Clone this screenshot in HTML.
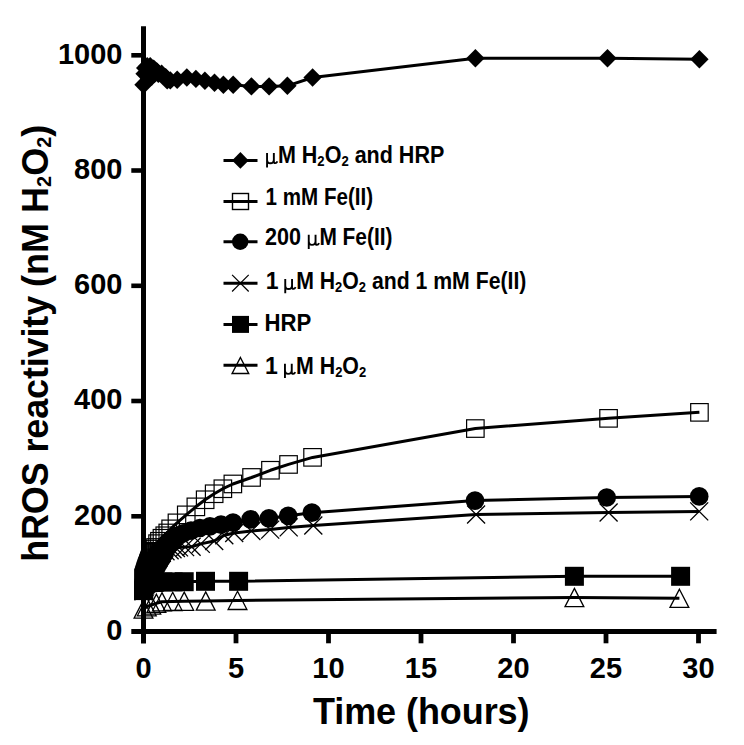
<!DOCTYPE html>
<html><head><meta charset="utf-8"><title>hROS reactivity</title>
<style>html,body{margin:0;padding:0;background:#fff;}svg{display:block;}</style></head>
<body><svg width="744" height="745" viewBox="0 0 744 745">
<rect width="744" height="745" fill="#fff"/>
<g stroke="#000" fill="none">
<line x1="143.5" y1="26.3" x2="143.5" y2="643.5" stroke-width="5"/>
<line x1="131.3" y1="631.5" x2="716.6" y2="631.5" stroke-width="4.8"/>
<line x1="131.3" y1="516.3" x2="143.5" y2="516.3" stroke-width="4.6"/>
<line x1="131.3" y1="401.0" x2="143.5" y2="401.0" stroke-width="4.6"/>
<line x1="131.3" y1="285.8" x2="143.5" y2="285.8" stroke-width="4.6"/>
<line x1="131.3" y1="170.5" x2="143.5" y2="170.5" stroke-width="4.6"/>
<line x1="131.3" y1="55.3" x2="143.5" y2="55.3" stroke-width="4.6"/>
<line x1="236.0" y1="631.5" x2="236.0" y2="643.3" stroke-width="4.8"/>
<line x1="328.5" y1="631.5" x2="328.5" y2="643.3" stroke-width="4.8"/>
<line x1="421.0" y1="631.5" x2="421.0" y2="643.3" stroke-width="4.8"/>
<line x1="513.5" y1="631.5" x2="513.5" y2="643.3" stroke-width="4.8"/>
<line x1="606.0" y1="631.5" x2="606.0" y2="643.3" stroke-width="4.8"/>
<line x1="698.5" y1="631.5" x2="698.5" y2="643.3" stroke-width="4.8"/>
</g>
<g font-family="Liberation Sans, sans-serif" font-weight="bold" font-size="29" fill="#000">
<text x="122.5" y="639.8" text-anchor="end">0</text>
<text x="122.5" y="524.6" text-anchor="end">200</text>
<text x="122.5" y="409.3" text-anchor="end">400</text>
<text x="122.5" y="294.1" text-anchor="end">600</text>
<text x="122.5" y="178.8" text-anchor="end">800</text>
<text x="122.5" y="63.6" text-anchor="end">1000</text>
<text x="143.5" y="678" text-anchor="middle">0</text>
<text x="236.0" y="678" text-anchor="middle">5</text>
<text x="328.5" y="678" text-anchor="middle">10</text>
<text x="421.0" y="678" text-anchor="middle">15</text>
<text x="513.5" y="678" text-anchor="middle">20</text>
<text x="606.0" y="678" text-anchor="middle">25</text>
<text x="698.5" y="678" text-anchor="middle">30</text>
</g>
<text x="313" y="723.7" font-family="Liberation Sans, sans-serif" font-weight="bold" font-size="36" textLength="216.5" lengthAdjust="spacing">Time (hours)</text>
<text transform="translate(48 561.8) rotate(-90)" font-family="Liberation Sans, sans-serif" font-weight="bold" font-size="36" textLength="266" lengthAdjust="spacing">hROS reactivity</text>
<text transform="translate(48 286.9) rotate(-90)" font-family="Liberation Sans, sans-serif" font-weight="bold" font-size="36">(nM H<tspan font-size="20" dy="3">2</tspan><tspan dy="-3">O</tspan><tspan font-size="20" dy="3">2</tspan><tspan dy="-3">)</tspan></text>
<g fill="none" stroke="#000" stroke-width="3.0" stroke-linejoin="round">
<polyline points="143.5,84.7 144.6,73.7 145.2,68.0 147.2,66.2 149.1,78.3 150.2,66.2 151.8,76.6 153.7,68.6 154.6,73.7 156.8,71.4 158.3,73.7 161.6,73.7 165.7,77.2 167.2,80.4 170.3,80.4 177.2,79.8 186.8,77.5 195.9,78.9 204.9,80.7 214.5,82.8 223.4,84.7 233.2,84.7 251.4,86.4 269.1,86.4 287.4,85.8 312.6,77.5 475.4,58.2 607.5,58.2 699.4,59.2"/>
<polyline points="143.5,578.5 143.9,577.3 144.2,576.2 144.6,575.0 145.0,573.9 145.3,572.8 145.7,571.7 146.1,570.6 146.5,569.5 146.8,568.5 147.2,567.4 147.6,566.4 147.9,565.3 148.3,564.3 148.7,563.3 149.1,562.4 149.4,561.4 149.8,560.4 150.2,559.5 150.5,558.5 150.9,557.5 151.3,556.6 151.6,555.7 152.0,554.8 152.4,553.9 152.8,553.0 153.1,552.2 153.5,551.3 154.6,549.0 155.5,547.4 157.6,543.6 159.4,541.2 162.0,538.2 164.8,535.8 167.7,532.9 170.7,528.8 177.0,522.9 186.2,514.9 195.9,506.8 205.1,499.7 214.2,493.8 222.9,488.7 232.9,484.0 251.5,477.5 270.4,470.3 288.5,464.4 312.6,457.4 475.4,428.5 608.6,418.3 699.4,412.3"/>
<polyline points="143.5,581.9 144.1,579.6 144.6,577.4 145.2,575.4 145.7,573.7 146.3,572.2 146.8,570.9 147.4,569.7 147.9,568.7 148.5,567.8 149.1,567.0 149.6,566.2 150.2,565.5 150.7,564.9 151.3,564.3 151.8,563.7 152.4,563.1 152.9,562.6 153.5,562.1 154.0,561.7 154.6,561.2 155.2,560.8 155.7,560.3 156.3,559.7 156.8,559.0 157.4,558.0 157.9,557.0 158.5,555.8 159.0,554.6 159.6,553.5 160.2,552.6 160.7,551.7 161.3,550.9 161.8,550.1 162.4,549.3 162.9,548.6 163.5,547.8 164.0,547.1 164.6,546.4 165.1,545.7 165.7,545.1 166.3,544.4 166.8,543.7 167.4,543.1 167.9,542.6 168.5,542.0 169.0,541.5 169.6,541.0 170.1,540.5 170.7,540.0 171.2,539.6 171.8,539.1 172.4,538.7 172.9,538.3 173.5,537.9 174.0,537.6 174.6,537.3 175.1,536.9 175.7,536.6 176.2,536.3 176.8,536.1 183.1,533.4 191.0,530.7 199.9,528.0 209.9,526.3 221.0,524.6 233.0,522.6 250.6,519.3 268.9,518.4 288.2,515.8 311.9,512.7 475.0,500.6 606.7,497.5 699.2,496.4"/>
<polyline points="143.5,591.2 144.1,589.2 144.6,587.3 145.2,585.5 145.7,583.8 146.3,582.1 146.8,580.6 147.4,579.2 147.9,577.8 148.5,576.6 149.1,575.4 149.6,574.2 150.2,573.1 150.7,572.0 151.3,571.0 151.8,569.9 152.4,568.8 152.9,567.8 153.5,566.7 154.0,565.6 154.6,564.5 155.2,563.4 155.7,562.4 156.3,561.4 156.8,560.4 157.4,559.5 157.9,558.5 158.5,557.5 159.0,556.5 159.6,555.5 160.2,554.6 160.7,553.8 161.3,553.1 161.8,552.7 165.5,551.3 169.6,550.3 172.5,549.2 175.9,548.0 179.0,547.4 185.1,547.1 191.6,546.8 200.8,543.9 214.2,541.0 224.3,535.3 234.2,533.0 251.4,531.0 270.2,529.6 288.7,527.4 313.3,525.5 476.1,514.5 608.6,512.5 699.2,511.4"/>
<polyline points="143.5,590.6 144.4,583.4 145.3,582.8 146.3,582.7 147.2,582.6 148.1,582.6 149.1,582.5 150.0,582.5 150.9,582.4 151.8,582.4 152.8,582.3 153.7,582.3 154.6,582.2 162.9,581.9 173.1,581.9 184.2,581.7 205.5,581.3 238.6,581.3 574.4,576.3 680.6,576.3"/>
<polyline points="143.5,609.1 146.8,606.7 151.3,605.0 156.4,603.3 162.0,601.7 172.7,601.4 184.2,601.2 205.7,601.0 237.5,600.4 574.4,597.5 679.4,598.3"/>
</g>
<g fill="#000"><path d="M143.5 75.5L152.7 84.7L143.5 93.9L134.3 84.7Z"/><path d="M144.6 64.5L153.8 73.7L144.6 82.9L135.4 73.7Z"/><path d="M145.2 58.8L154.4 68.0L145.2 77.2L136.0 68.0Z"/><path d="M147.2 57.0L156.4 66.2L147.2 75.4L138.0 66.2Z"/><path d="M149.1 69.1L158.2 78.3L149.1 87.5L139.9 78.3Z"/><path d="M150.2 57.0L159.4 66.2L150.2 75.4L141.0 66.2Z"/><path d="M151.8 67.4L161.0 76.6L151.8 85.8L142.6 76.6Z"/><path d="M153.7 59.4L162.9 68.6L153.7 77.8L144.5 68.6Z"/><path d="M154.6 64.5L163.8 73.7L154.6 82.9L145.4 73.7Z"/><path d="M156.8 62.2L166.0 71.4L156.8 80.6L147.6 71.4Z"/><path d="M158.3 64.5L167.5 73.7L158.3 82.9L149.1 73.7Z"/><path d="M161.6 64.5L170.8 73.7L161.6 82.9L152.4 73.7Z"/><path d="M165.7 68.0L174.9 77.2L165.7 86.4L156.5 77.2Z"/><path d="M167.2 71.2L176.4 80.4L167.2 89.6L158.0 80.4Z"/><path d="M170.3 71.2L179.5 80.4L170.3 89.6L161.1 80.4Z"/><path d="M177.2 70.6L186.4 79.8L177.2 89.0L168.0 79.8Z"/><path d="M186.8 68.3L196.0 77.5L186.8 86.7L177.6 77.5Z"/><path d="M195.9 69.7L205.1 78.9L195.9 88.1L186.7 78.9Z"/><path d="M204.9 71.5L214.1 80.7L204.9 89.9L195.7 80.7Z"/><path d="M214.5 73.6L223.7 82.8L214.5 92.0L205.3 82.8Z"/><path d="M223.4 75.5L232.6 84.7L223.4 93.9L214.2 84.7Z"/><path d="M233.2 75.5L242.4 84.7L233.2 93.9L224.0 84.7Z"/><path d="M251.4 77.2L260.6 86.4L251.4 95.6L242.2 86.4Z"/><path d="M269.1 77.2L278.3 86.4L269.1 95.6L259.9 86.4Z"/><path d="M287.4 76.6L296.6 85.8L287.4 95.0L278.2 85.8Z"/><path d="M312.6 68.3L321.8 77.5L312.6 86.7L303.4 77.5Z"/><path d="M475.4 49.0L484.6 58.2L475.4 67.4L466.2 58.2Z"/><path d="M607.5 49.0L616.7 58.2L607.5 67.4L598.3 58.2Z"/><path d="M699.4 50.0L708.6 59.2L699.4 68.4L690.2 59.2Z"/></g>
<g fill="none" stroke="#000" stroke-width="1.2"><rect x="134.8" y="569.7" width="17.5" height="17.5"/><rect x="135.1" y="568.6" width="17.5" height="17.5"/><rect x="135.5" y="567.4" width="17.5" height="17.5"/><rect x="135.9" y="566.3" width="17.5" height="17.5"/><rect x="136.2" y="565.2" width="17.5" height="17.5"/><rect x="136.6" y="564.0" width="17.5" height="17.5"/><rect x="137.0" y="562.9" width="17.5" height="17.5"/><rect x="137.3" y="561.8" width="17.5" height="17.5"/><rect x="137.7" y="560.8" width="17.5" height="17.5"/><rect x="138.1" y="559.7" width="17.5" height="17.5"/><rect x="138.4" y="558.7" width="17.5" height="17.5"/><rect x="138.8" y="557.6" width="17.5" height="17.5"/><rect x="139.2" y="556.6" width="17.5" height="17.5"/><rect x="139.6" y="555.6" width="17.5" height="17.5"/><rect x="139.9" y="554.6" width="17.5" height="17.5"/><rect x="140.3" y="553.6" width="17.5" height="17.5"/><rect x="140.7" y="552.6" width="17.5" height="17.5"/><rect x="141.0" y="551.7" width="17.5" height="17.5"/><rect x="141.4" y="550.7" width="17.5" height="17.5"/><rect x="141.8" y="549.7" width="17.5" height="17.5"/><rect x="142.2" y="548.8" width="17.5" height="17.5"/><rect x="142.5" y="547.9" width="17.5" height="17.5"/><rect x="142.9" y="546.9" width="17.5" height="17.5"/><rect x="143.3" y="546.0" width="17.5" height="17.5"/><rect x="143.6" y="545.1" width="17.5" height="17.5"/><rect x="144.0" y="544.3" width="17.5" height="17.5"/><rect x="144.4" y="543.4" width="17.5" height="17.5"/><rect x="144.7" y="542.6" width="17.5" height="17.5"/><rect x="145.8" y="540.3" width="17.5" height="17.5"/><rect x="146.8" y="538.7" width="17.5" height="17.5"/><rect x="148.8" y="534.9" width="17.5" height="17.5"/><rect x="150.7" y="532.5" width="17.5" height="17.5"/><rect x="153.2" y="529.5" width="17.5" height="17.5"/><rect x="156.0" y="527.0" width="17.5" height="17.5"/><rect x="159.0" y="524.2" width="17.5" height="17.5"/><rect x="161.9" y="520.1" width="17.5" height="17.5"/><rect x="168.2" y="514.1" width="17.5" height="17.5"/><rect x="177.5" y="506.1" width="17.5" height="17.5"/><rect x="187.1" y="498.1" width="17.5" height="17.5"/><rect x="196.4" y="491.0" width="17.5" height="17.5"/><rect x="205.4" y="485.0" width="17.5" height="17.5"/><rect x="214.1" y="480.0" width="17.5" height="17.5"/><rect x="224.1" y="475.2" width="17.5" height="17.5"/><rect x="242.8" y="468.7" width="17.5" height="17.5"/><rect x="261.7" y="461.5" width="17.5" height="17.5"/><rect x="279.8" y="455.7" width="17.5" height="17.5"/><rect x="303.8" y="448.6" width="17.5" height="17.5"/><rect x="466.6" y="419.8" width="17.5" height="17.5"/><rect x="599.8" y="409.6" width="17.5" height="17.5"/><rect x="690.7" y="403.6" width="17.5" height="17.5"/></g>
<g fill="#000"><circle cx="143.5" cy="581.9" r="9.35"/><circle cx="144.1" cy="579.6" r="9.35"/><circle cx="144.6" cy="577.4" r="9.35"/><circle cx="145.2" cy="575.4" r="9.35"/><circle cx="145.7" cy="573.7" r="9.35"/><circle cx="146.3" cy="572.2" r="9.35"/><circle cx="146.8" cy="570.9" r="9.35"/><circle cx="147.4" cy="569.7" r="9.35"/><circle cx="147.9" cy="568.7" r="9.35"/><circle cx="148.5" cy="567.8" r="9.35"/><circle cx="149.1" cy="567.0" r="9.35"/><circle cx="149.6" cy="566.2" r="9.35"/><circle cx="150.2" cy="565.5" r="9.35"/><circle cx="150.7" cy="564.9" r="9.35"/><circle cx="151.3" cy="564.3" r="9.35"/><circle cx="151.8" cy="563.7" r="9.35"/><circle cx="152.4" cy="563.1" r="9.35"/><circle cx="152.9" cy="562.6" r="9.35"/><circle cx="153.5" cy="562.1" r="9.35"/><circle cx="154.0" cy="561.7" r="9.35"/><circle cx="154.6" cy="561.2" r="9.35"/><circle cx="155.2" cy="560.8" r="9.35"/><circle cx="155.7" cy="560.3" r="9.35"/><circle cx="156.3" cy="559.7" r="9.35"/><circle cx="156.8" cy="559.0" r="9.35"/><circle cx="157.4" cy="558.0" r="9.35"/><circle cx="157.9" cy="557.0" r="9.35"/><circle cx="158.5" cy="555.8" r="9.35"/><circle cx="159.0" cy="554.6" r="9.35"/><circle cx="159.6" cy="553.5" r="9.35"/><circle cx="160.2" cy="552.6" r="9.35"/><circle cx="160.7" cy="551.7" r="9.35"/><circle cx="161.3" cy="550.9" r="9.35"/><circle cx="161.8" cy="550.1" r="9.35"/><circle cx="162.4" cy="549.3" r="9.35"/><circle cx="162.9" cy="548.6" r="9.35"/><circle cx="163.5" cy="547.8" r="9.35"/><circle cx="164.0" cy="547.1" r="9.35"/><circle cx="164.6" cy="546.4" r="9.35"/><circle cx="165.1" cy="545.7" r="9.35"/><circle cx="165.7" cy="545.1" r="9.35"/><circle cx="166.3" cy="544.4" r="9.35"/><circle cx="166.8" cy="543.7" r="9.35"/><circle cx="167.4" cy="543.1" r="9.35"/><circle cx="167.9" cy="542.6" r="9.35"/><circle cx="168.5" cy="542.0" r="9.35"/><circle cx="169.0" cy="541.5" r="9.35"/><circle cx="169.6" cy="541.0" r="9.35"/><circle cx="170.1" cy="540.5" r="9.35"/><circle cx="170.7" cy="540.0" r="9.35"/><circle cx="171.2" cy="539.6" r="9.35"/><circle cx="171.8" cy="539.1" r="9.35"/><circle cx="172.4" cy="538.7" r="9.35"/><circle cx="172.9" cy="538.3" r="9.35"/><circle cx="173.5" cy="537.9" r="9.35"/><circle cx="174.0" cy="537.6" r="9.35"/><circle cx="174.6" cy="537.3" r="9.35"/><circle cx="175.1" cy="536.9" r="9.35"/><circle cx="175.7" cy="536.6" r="9.35"/><circle cx="176.2" cy="536.3" r="9.35"/><circle cx="176.8" cy="536.1" r="9.35"/><circle cx="183.1" cy="533.4" r="9.35"/><circle cx="191.0" cy="530.7" r="9.35"/><circle cx="199.9" cy="528.0" r="9.35"/><circle cx="209.9" cy="526.3" r="9.35"/><circle cx="221.0" cy="524.6" r="9.35"/><circle cx="233.0" cy="522.6" r="9.35"/><circle cx="250.6" cy="519.3" r="9.35"/><circle cx="268.9" cy="518.4" r="9.35"/><circle cx="288.2" cy="515.8" r="9.35"/><circle cx="311.9" cy="512.7" r="9.35"/><circle cx="475.0" cy="500.6" r="9.35"/><circle cx="606.7" cy="497.5" r="9.35"/><circle cx="699.2" cy="496.4" r="9.35"/><circle cx="153.7" cy="571.0" r="9.35"/><circle cx="156.4" cy="567.0" r="9.35"/><circle cx="159.2" cy="562.4" r="9.35"/><circle cx="162.0" cy="557.7" r="9.35"/><circle cx="164.8" cy="553.1" r="9.35"/><circle cx="167.6" cy="547.4" r="9.35"/><circle cx="170.3" cy="543.9" r="9.35"/><circle cx="173.1" cy="541.6" r="9.35"/></g>
<g fill="none" stroke="#000" stroke-width="1.3"><path d="M134.5 582.2L152.5 600.2M134.5 600.2L152.5 582.2"/><path d="M135.1 580.2L153.1 598.2M135.1 598.2L153.1 580.2"/><path d="M135.6 578.3L153.6 596.3M135.6 596.3L153.6 578.3"/><path d="M136.2 576.5L154.2 594.5M136.2 594.5L154.2 576.5"/><path d="M136.7 574.8L154.7 592.8M136.7 592.8L154.7 574.8"/><path d="M137.3 573.1L155.3 591.1M137.3 591.1L155.3 573.1"/><path d="M137.8 571.6L155.8 589.6M137.8 589.6L155.8 571.6"/><path d="M138.4 570.2L156.4 588.2M138.4 588.2L156.4 570.2"/><path d="M138.9 568.8L156.9 586.8M138.9 586.8L156.9 568.8"/><path d="M139.5 567.6L157.5 585.6M139.5 585.6L157.5 567.6"/><path d="M140.1 566.4L158.1 584.4M140.1 584.4L158.1 566.4"/><path d="M140.6 565.2L158.6 583.2M140.6 583.2L158.6 565.2"/><path d="M141.2 564.1L159.2 582.1M141.2 582.1L159.2 564.1"/><path d="M141.7 563.0L159.7 581.0M141.7 581.0L159.7 563.0"/><path d="M142.3 562.0L160.3 580.0M142.3 580.0L160.3 562.0"/><path d="M142.8 560.9L160.8 578.9M142.8 578.9L160.8 560.9"/><path d="M143.4 559.8L161.4 577.8M143.4 577.8L161.4 559.8"/><path d="M143.9 558.8L161.9 576.8M143.9 576.8L161.9 558.8"/><path d="M144.5 557.7L162.5 575.7M144.5 575.7L162.5 557.7"/><path d="M145.0 556.6L163.0 574.6M145.0 574.6L163.0 556.6"/><path d="M145.6 555.5L163.6 573.5M145.6 573.5L163.6 555.5"/><path d="M146.2 554.4L164.2 572.4M146.2 572.4L164.2 554.4"/><path d="M146.7 553.4L164.7 571.4M146.7 571.4L164.7 553.4"/><path d="M147.3 552.4L165.3 570.4M147.3 570.4L165.3 552.4"/><path d="M147.8 551.4L165.8 569.4M147.8 569.4L165.8 551.4"/><path d="M148.4 550.5L166.4 568.5M148.4 568.5L166.4 550.5"/><path d="M148.9 549.5L166.9 567.5M148.9 567.5L166.9 549.5"/><path d="M149.5 548.5L167.5 566.5M149.5 566.5L167.5 548.5"/><path d="M150.0 547.5L168.0 565.5M150.0 565.5L168.0 547.5"/><path d="M150.6 546.5L168.6 564.5M150.6 564.5L168.6 546.5"/><path d="M151.2 545.6L169.2 563.6M151.2 563.6L169.2 545.6"/><path d="M151.7 544.8L169.7 562.8M151.7 562.8L169.7 544.8"/><path d="M152.3 544.1L170.3 562.1M152.3 562.1L170.3 544.1"/><path d="M152.8 543.7L170.8 561.7M152.8 561.7L170.8 543.7"/><path d="M156.5 542.3L174.5 560.3M156.5 560.3L174.5 542.3"/><path d="M160.6 541.3L178.6 559.3M160.6 559.3L178.6 541.3"/><path d="M163.5 540.2L181.5 558.2M163.5 558.2L181.5 540.2"/><path d="M166.9 539.0L184.9 557.0M166.9 557.0L184.9 539.0"/><path d="M170.0 538.4L188.0 556.4M170.0 556.4L188.0 538.4"/><path d="M176.1 538.1L194.1 556.1M176.1 556.1L194.1 538.1"/><path d="M182.6 537.8L200.6 555.8M182.6 555.8L200.6 537.8"/><path d="M191.8 534.9L209.8 552.9M191.8 552.9L209.8 534.9"/><path d="M205.2 532.0L223.2 550.0M205.2 550.0L223.2 532.0"/><path d="M215.3 526.3L233.3 544.3M215.3 544.3L233.3 526.3"/><path d="M225.2 524.0L243.2 542.0M225.2 542.0L243.2 524.0"/><path d="M242.4 522.0L260.4 540.0M242.4 540.0L260.4 522.0"/><path d="M261.2 520.6L279.2 538.6M261.2 538.6L279.2 520.6"/><path d="M279.7 518.4L297.7 536.4M279.7 536.4L297.7 518.4"/><path d="M304.3 516.5L322.3 534.5M304.3 534.5L322.3 516.5"/><path d="M467.1 505.5L485.1 523.5M467.1 523.5L485.1 505.5"/><path d="M599.6 503.5L617.6 521.5M599.6 521.5L617.6 503.5"/><path d="M690.2 502.4L708.2 520.4M690.2 520.4L708.2 502.4"/></g>
<g fill="#000"><rect x="134.0" y="581.1" width="19.0" height="19.0"/><rect x="134.9" y="573.9" width="19.0" height="19.0"/><rect x="135.8" y="573.3" width="19.0" height="19.0"/><rect x="136.8" y="573.2" width="19.0" height="19.0"/><rect x="137.7" y="573.1" width="19.0" height="19.0"/><rect x="138.6" y="573.1" width="19.0" height="19.0"/><rect x="139.6" y="573.0" width="19.0" height="19.0"/><rect x="140.5" y="573.0" width="19.0" height="19.0"/><rect x="141.4" y="572.9" width="19.0" height="19.0"/><rect x="142.3" y="572.9" width="19.0" height="19.0"/><rect x="143.2" y="572.8" width="19.0" height="19.0"/><rect x="144.2" y="572.8" width="19.0" height="19.0"/><rect x="145.1" y="572.7" width="19.0" height="19.0"/><rect x="153.4" y="572.4" width="19.0" height="19.0"/><rect x="163.6" y="572.4" width="19.0" height="19.0"/><rect x="174.7" y="572.2" width="19.0" height="19.0"/><rect x="196.0" y="571.8" width="19.0" height="19.0"/><rect x="229.1" y="571.8" width="19.0" height="19.0"/><rect x="564.9" y="566.8" width="19.0" height="19.0"/><rect x="671.1" y="566.8" width="19.0" height="19.0"/></g>
<g fill="none" stroke="#000" stroke-width="1.3"><path d="M143.5 600.0L152.9 618.2L134.1 618.2Z"/><path d="M146.8 597.6L156.2 615.8L137.4 615.8Z"/><path d="M151.3 595.9L160.7 614.1L141.9 614.1Z"/><path d="M156.4 594.2L165.8 612.4L147.0 612.4Z"/><path d="M162.0 592.6L171.4 610.8L152.6 610.8Z"/><path d="M172.7 592.3L182.1 610.5L163.3 610.5Z"/><path d="M184.2 592.1L193.6 610.3L174.8 610.3Z"/><path d="M205.7 591.9L215.1 610.1L196.3 610.1Z"/><path d="M237.5 591.3L246.9 609.5L228.1 609.5Z"/><path d="M574.4 588.4L583.8 606.6L565.0 606.6Z"/><path d="M679.4 589.2L688.8 607.4L670.0 607.4Z"/></g>
<g stroke="#000" stroke-width="3">
<line x1="223.5" y1="160.4" x2="257.5" y2="160.4"/>
<line x1="223.5" y1="201.5" x2="257.5" y2="201.5"/>
<line x1="223.5" y1="241.8" x2="257.5" y2="241.8"/>
<line x1="223.5" y1="283.2" x2="257.5" y2="283.2"/>
<line x1="223.5" y1="324.4" x2="257.5" y2="324.4"/>
<line x1="223.5" y1="365.2" x2="257.5" y2="365.2"/>
</g>
<g fill="#000"><path d="M240.4 152.1L248.7 160.4L240.4 168.7L232.1 160.4Z"/></g>
<g fill="none" stroke="#000" stroke-width="1.4"><rect x="232.5" y="193.5" width="16.0" height="16.0"/></g>
<g fill="#000"><circle cx="240.2" cy="241.8" r="8.2"/></g>
<g fill="none" stroke="#000" stroke-width="1.2"><path d="M232.1 274.9L248.7 291.5M232.1 291.5L248.7 274.9"/></g>
<g fill="#000"><rect x="232.0" y="315.9" width="17.0" height="17.0"/></g>
<g fill="none" stroke="#000" stroke-width="1.4"><path d="M240.4 357.5L248.7 373.5L232.1 373.5Z"/></g>
<g font-family="Liberation Sans, sans-serif" font-weight="bold" font-size="23" fill="#000">
<text x="277.9" y="163.0" textLength="166.4" lengthAdjust="spacingAndGlyphs">M H<tspan font-size="14" dy="3">2</tspan><tspan dy="-3">O</tspan><tspan font-size="14" dy="3">2</tspan><tspan dy="-3"> and HRP</tspan></text>
<text x="265.6" y="205.0" textLength="107.5" lengthAdjust="spacingAndGlyphs">1 mM Fe(II)</text>
<text x="264.9" y="244.7" textLength="36.0" lengthAdjust="spacingAndGlyphs">200</text>
<text x="319.4" y="244.7" textLength="73.1" lengthAdjust="spacingAndGlyphs">M Fe(II)</text>
<text x="265.8" y="288.8">1</text>
<text x="296.2" y="288.8" textLength="230.2" lengthAdjust="spacingAndGlyphs">M H<tspan font-size="14" dy="3">2</tspan><tspan dy="-3">O</tspan><tspan font-size="14" dy="3">2</tspan><tspan dy="-3"> and 1 mM Fe(II)</tspan></text>
<text x="264.6" y="330.8" textLength="46.8" lengthAdjust="spacingAndGlyphs">HRP</text>
<text x="265.0" y="373.7">1</text>
<text x="296.0" y="373.7" textLength="70.2" lengthAdjust="spacingAndGlyphs">M H<tspan font-size="14" dy="3">2</tspan><tspan dy="-3">O</tspan><tspan font-size="14" dy="3">2</tspan></text>
</g>
<path transform="translate(265.8 153.1)" d="M1.25 0V14.3M1.25 6.3C1.25 9.1 2.9 10.1 4.5 10.1C6.2 10.1 8.05 8.9 8.05 6.3M8.05 0V8.1C8.05 9.5 8.7 10.0 9.5 10.0C10.4 10.0 11.1 9.3 11.6 8.3" fill="none" stroke="#000" stroke-width="1.9"/>
<path transform="translate(307.5 234.8)" d="M1.25 0V14.3M1.25 6.3C1.25 9.1 2.9 10.1 4.5 10.1C6.2 10.1 8.05 8.9 8.05 6.3M8.05 0V8.1C8.05 9.5 8.7 10.0 9.5 10.0C10.4 10.0 11.1 9.3 11.6 8.3" fill="none" stroke="#000" stroke-width="1.9"/>
<path transform="translate(284.0 278.9)" d="M1.25 0V14.3M1.25 6.3C1.25 9.1 2.9 10.1 4.5 10.1C6.2 10.1 8.05 8.9 8.05 6.3M8.05 0V8.1C8.05 9.5 8.7 10.0 9.5 10.0C10.4 10.0 11.1 9.3 11.6 8.3" fill="none" stroke="#000" stroke-width="1.9"/>
<path transform="translate(283.7 363.8)" d="M1.25 0V14.3M1.25 6.3C1.25 9.1 2.9 10.1 4.5 10.1C6.2 10.1 8.05 8.9 8.05 6.3M8.05 0V8.1C8.05 9.5 8.7 10.0 9.5 10.0C10.4 10.0 11.1 9.3 11.6 8.3" fill="none" stroke="#000" stroke-width="1.9"/>
</svg></body></html>
